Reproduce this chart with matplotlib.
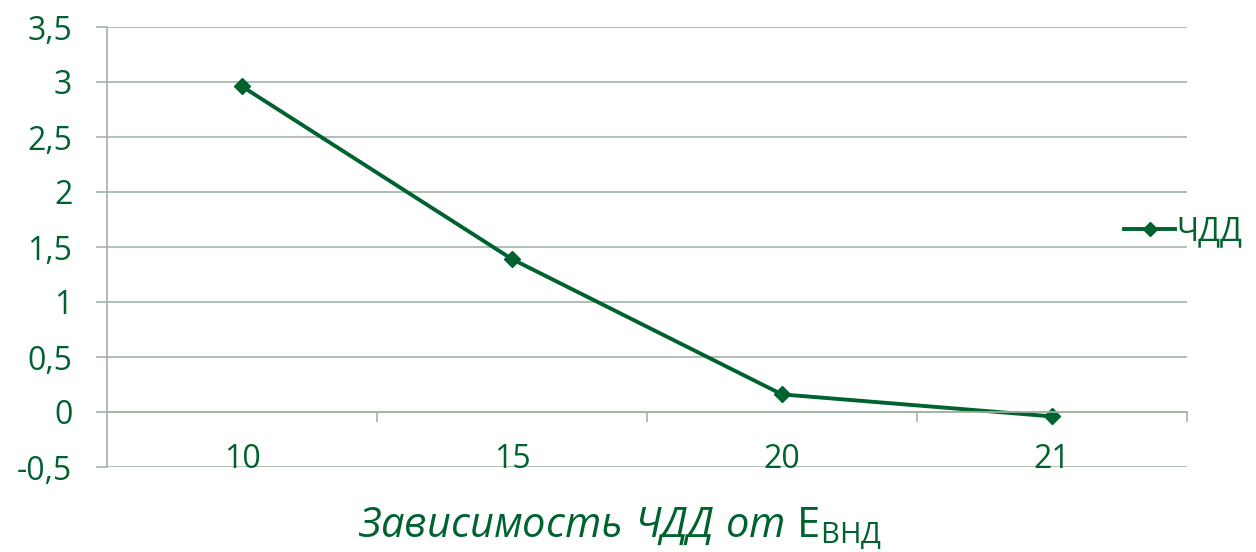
import matplotlib
matplotlib.use("Agg")
import matplotlib.pyplot as plt
from matplotlib.lines import Line2D

# значения ЧДД при разных E_ВНД
categories = ["10", "15", "20", "21"]
npv = [2.96, 1.39, 0.16, -0.04]
y_ticks = [-0.5, 0, 0.5, 1, 1.5, 2, 2.5, 3, 3.5]
y_labels = ["-0,5", "0", "0,5", "1", "1,5", "2", "2,5", "3", "3,5"]

green = "#00622f"
grid_col = "#a3b3a5"

plt.rcParams["font.family"] = ["Open Sans", "DejaVu Sans"]
plt.rcParams["mathtext.fontset"] = "custom"
plt.rcParams["mathtext.rm"] = "Open Sans"
plt.rcParams["mathtext.it"] = "Open Sans:italic"

fig = plt.figure(figsize=(12.56, 5.52), dpi=100)
ax = fig.add_axes([107 / 1256, 85 / 552, 1080 / 1256, 440 / 552])

x = list(range(len(categories)))
ax.plot(x, npv, color=green, lw=2.8, marker="D", ms=8, mec=green, mfc=green)

ax.set_xlim(-0.5, len(categories) - 0.5)
ax.set_ylim(-0.5, 3.5)
ax.set_yticks(y_ticks)
ax.set_yticklabels(y_labels)
ax.yaxis.grid(True, color=grid_col, lw=1.2)
ax.set_axisbelow(True)

ax.tick_params(axis="y", direction="out", length=8, width=1.2, color=grid_col,
               labelsize=23, labelcolor=green, pad=17)
ax.set_xticks([i + 0.5 for i in x])
ax.set_xticklabels([])
ax.tick_params(axis="x", direction="out", length=7, width=1.2, color=grid_col)

for s in ["top", "right"]:
    ax.spines[s].set_visible(False)
ax.spines["left"].set_color(grid_col)
ax.spines["left"].set_linewidth(1.2)
ax.spines["bottom"].set_position(("data", 0))
ax.spines["bottom"].set_color(grid_col)
ax.spines["bottom"].set_linewidth(1.2)

for i, c in enumerate(categories):
    ax.text(i, -0.43, c, ha="center", va="center", fontsize=23, color=green)

handle = Line2D([], [], color=green, lw=2.8, marker="D", ms=7, mfc=green, mec=green)
fig.legend([handle], ["ЧДД"], loc="center left", bbox_to_anchor=(1108 / 1256, 1 - 232 / 552),
           frameon=False, fontsize=23, labelcolor=green, handlelength=1.6,
           handletextpad=0.05, borderpad=0)

fig.text(620 / 1256, 1 - 529 / 552,
         r"$\mathit{Зависимость\ ЧДД\ от}\ \mathrm{Е}_{\mathrm{ВНД}}$",
         ha="center", va="center", fontsize=30, color=green)

fig.savefig("out.png", dpi=100)
